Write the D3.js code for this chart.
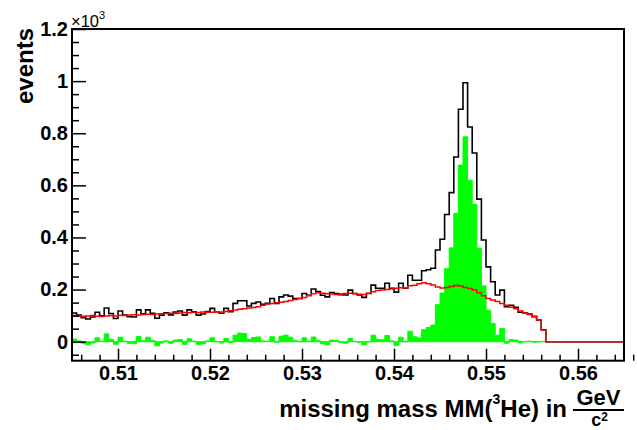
<!DOCTYPE html>
<html>
<head>
<meta charset="utf-8">
<script src="https://cdn.jsdelivr.net/npm/d3@7"></script>
<style>
body { margin: 0; background: #fff; }
text { font-family: "Liberation Sans", Arial, Helvetica, sans-serif; }
</style>
</head>
<body>
<div id="chart"></div>
<script>
// histogram binning: first bin low edge and bin width (GeV/c^2)
var binStart = 0.505, binWidth = 0.0005;

// total events (black)
var blackCounts = [
  110, 102, 92, 87, 95, 113, 99, 129, 108, 89,
  118, 102, 96, 95, 122, 107, 122, 109, 90, 102,
  111, 103, 114, 118, 102, 122, 115, 102, 106, 116,
  128, 115, 109, 128, 115, 147, 157, 157, 137, 147,
  152, 143, 147, 166, 147, 172, 179, 175, 166, 166,
  185, 178, 202, 192, 178, 172, 189, 185, 180, 179,
  198, 185, 179, 170, 185, 217, 205, 205, 224, 205,
  190, 224, 205, 255, 236, 236, 272, 276, 282, 352,
  393, 488, 572, 709, 892, 994, 824, 724, 547, 390,
  287, 230, 179, 198, 134, 140, 132, 113, 110, 106, 96, 83, 46
];
// background (red)
var redCounts = [
  100, 99, 98, 99, 100, 98, 97, 99, 100, 99,
  101, 100, 102, 103, 102, 104, 105, 104, 106, 107,
  108, 109, 108, 110, 112, 111, 113, 112, 114, 113,
  113, 115, 114, 116, 119, 122, 124, 126, 129, 131,
  134, 140, 145, 147, 149, 151, 154, 158, 162, 166,
  170, 176, 184, 188, 186, 184, 183, 181, 183, 185,
  186, 184, 182, 181, 186, 192, 196, 198, 200, 202,
  205, 207, 206, 215, 217, 222, 226, 222, 218, 210,
  206, 208, 212, 216, 214, 208, 204, 198, 188, 176,
  166, 160, 154, 147, 140, 132, 126, 118, 110, 104, 98, 84, 45
];
// signal after subtraction (green)
var greenCounts = [
  10, 3, -6, -12, -5, 15, 2, 30, 8, -10,
  17, 2, -6, -8, 20, 3, 17, 5, -16, -5,
  3, -6, 6, 8, -10, 11, 2, -10, -8, 3,
  15, 0, -5, 12, -4, 25, 33, 31, 8, 16,
  18, 3, 2, 19, -2, 21, 25, 17, 4, 0,
  15, 2, 18, 4, -8, -12, 6, 4, -3, -6,
  12, 1, -3, -11, -1, 25, 9, 7, 24, 3,
  -15, 17, -1, 40, 19, 14, 46, 54, 64, 142,
  187, 280, 360, 493, 678, 786, 620, 526, 359, 214,
  121, 70, 25, 51, -6, 8, 6, -5, 0, 2, -2, -1, 1
];

var xTicks = [0.51, 0.52, 0.53, 0.54, 0.55, 0.56];
var yTicks = [0, 200, 400, 600, 800, 1000, 1200];
var yTickLabels = ["0", "0.2", "0.4", "0.6", "0.8", "1", "1.2"];

var margin = { top: 29, right: 13, bottom: 69.3, left: 72 },
    width = 637 - margin.left - margin.right,
    height = 430 - margin.top - margin.bottom;

var svg = d3.select("#chart")
    .append("svg")
    .attr("width", 637)
    .attr("height", 430);

var g = svg.append("g")
    .attr("transform", "translate(" + margin.left + "," + margin.top + ")");

var x = d3.scaleLinear().domain([0.505, 0.565]).range([0, width]);
var y = d3.scaleLinear().domain([-73, 1200]).range([height, 0]);

g.append("clipPath").attr("id", "clip")
    .append("rect").attr("width", width).attr("height", height);

function stepPoints(vals) {
    var pts = vals.map(function (v, i) { return [binStart + i * binWidth, v]; });
    pts.push([binStart + vals.length * binWidth, 0]);
    pts.push([x.domain()[1], 0]);
    return pts;
}

var line = d3.line()
    .x(function (d) { return x(d[0]); })
    .y(function (d) { return y(d[1]); })
    .curve(d3.curveStepAfter);

var area = d3.area()
    .x(function (d) { return x(d[0]); })
    .y0(y(0))
    .y1(function (d) { return y(d[1]); })
    .curve(d3.curveStepAfter);

var plot = g.append("g").attr("clip-path", "url(#clip)");

// green filled histogram
plot.append("path")
    .datum(stepPoints(greenCounts))
    .attr("d", area)
    .style("fill", "#00ff00")
    .style("stroke", "#00ff00")
    .style("stroke-width", 1);

// black histogram
plot.append("path")
    .datum(stepPoints(blackCounts))
    .attr("d", line)
    .style("fill", "none")
    .style("stroke", "#000")
    .style("stroke-width", 1.6);

// red histogram
plot.append("path")
    .datum(stepPoints(redCounts))
    .attr("d", line)
    .style("fill", "none")
    .style("stroke", "#ff0000")
    .style("stroke-width", 1.5);

// minor ticks
var yMinor = d3.range(-50, 1201, 50).filter(function (v) { return v % 200 != 0; });
g.append("g")
    .call(d3.axisLeft(y).tickValues(yMinor).tickSize(-7).tickFormat(""))
    .call(function (a) { a.select(".domain").remove(); a.selectAll("line").style("stroke-width", 1.5); });

var xMinor = d3.range(0, 31).map(function (i) { return +(0.506 + i * 0.002).toFixed(3); })
    .filter(function (v) { return Math.round(v * 1000) % 10 != 0; });
g.append("g")
    .attr("transform", "translate(0," + height + ")")
    .call(d3.axisBottom(x).tickValues(xMinor).tickSize(-6).tickFormat(""))
    .call(function (a) { a.select(".domain").remove(); a.selectAll("line").style("stroke-width", 1.5); });

// major y axis
var yaxis = g.append("g")
    .call(d3.axisLeft(y).tickValues(yTicks).tickSize(-14).tickPadding(4)
        .tickFormat(function (d, i) { return yTickLabels[i]; }));
yaxis.select(".domain").remove();
yaxis.selectAll("line").style("stroke-width", 1.5);
yaxis.selectAll("text")
    .style("font-size", "20px")
    .style("font-weight", "bold")
    .style("fill", "#000");

// major x axis
var xaxis = g.append("g")
    .attr("transform", "translate(0," + height + ")")
    .call(d3.axisBottom(x).tickValues(xTicks).tickSize(-12).tickPadding(5)
        .tickFormat(d3.format(".2f")));
xaxis.select(".domain").remove();
xaxis.selectAll("line").style("stroke-width", 1.5);
xaxis.selectAll("text")
    .style("font-size", "20px")
    .style("font-weight", "bold")
    .style("fill", "#000");

// frame
g.append("rect")
    .attr("width", width)
    .attr("height", height)
    .style("fill", "none")
    .style("stroke", "#000")
    .style("stroke-width", 2);

// x10^3 exponent
var expo = svg.append("text")
    .attr("x", 71)
    .attr("y", 27)
    .style("font-size", "16.5px");
expo.append("tspan").text("\u00d710");
expo.append("tspan").attr("dy", -8).style("font-size", "11px").text("3");

// y title
svg.append("text")
    .attr("transform", "translate(33,28) rotate(-90)")
    .style("text-anchor", "end")
    .style("font-size", "24px")
    .style("font-weight", "bold")
    .text("events");

// x title
var xt = svg.append("text")
    .attr("x", 567)
    .attr("y", 416.7)
    .style("text-anchor", "end")
    .style("font-size", "24px")
    .style("font-weight", "bold");
xt.append("tspan").text("missing mass MM(");
xt.append("tspan").attr("dy", -13).style("font-size", "14px").text("3");
xt.append("tspan").attr("dy", 13).text("He) in");

svg.append("text")
    .attr("x", 598.5)
    .attr("y", 404.5)
    .style("text-anchor", "middle")
    .style("font-size", "22px")
    .style("font-weight", "bold")
    .text("GeV");
svg.append("line")
    .attr("x1", 573).attr("x2", 624)
    .attr("y1", 410).attr("y2", 410)
    .style("stroke", "#000")
    .style("stroke-width", 2);
var cs = svg.append("text")
    .attr("x", 599.5)
    .attr("y", 426)
    .style("text-anchor", "middle")
    .style("font-size", "18px")
    .style("font-weight", "bold");
cs.append("tspan").text("c");
cs.append("tspan").attr("dy", -5).style("font-size", "12px").text("2");
</script>
</body>
</html>
